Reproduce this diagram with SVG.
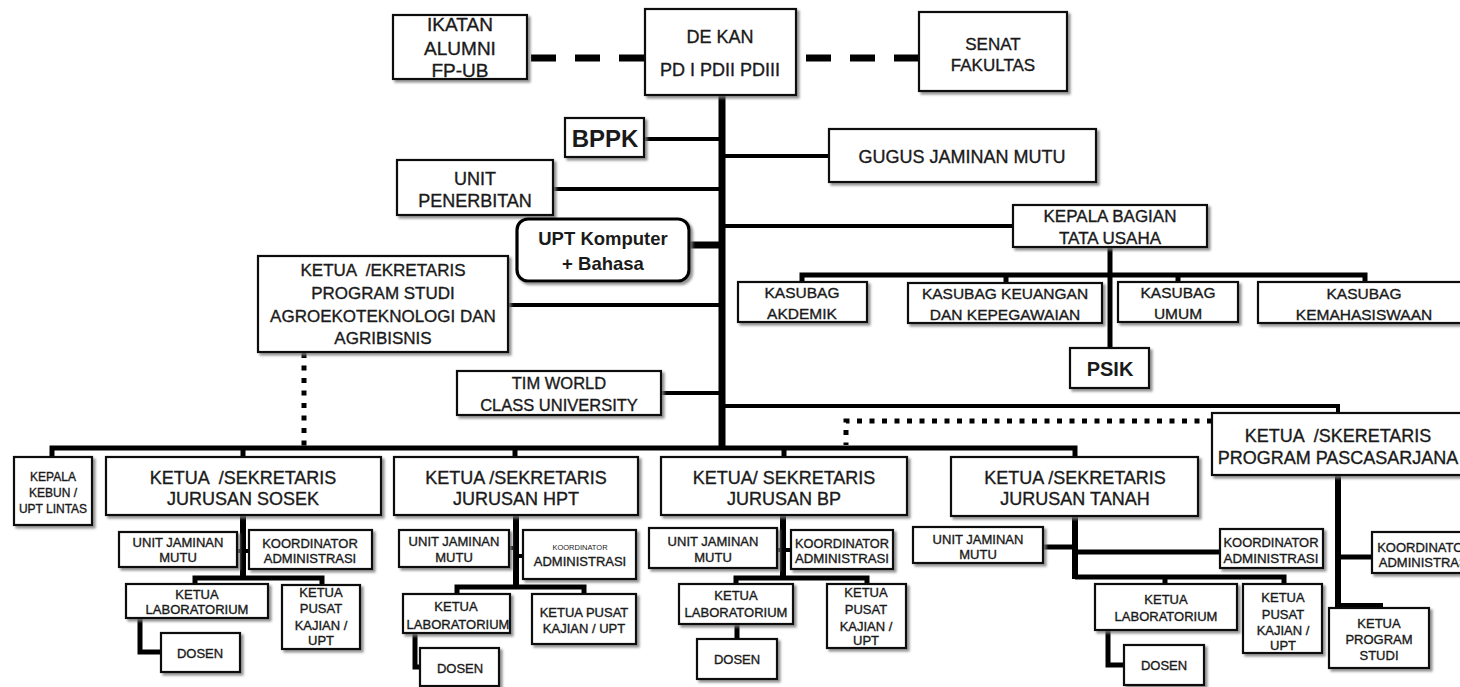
<svg xmlns="http://www.w3.org/2000/svg" width="1460" height="687" viewBox="0 0 1460 687">
<defs>
<filter id="sh" x="-10%" y="-10%" width="130%" height="140%">
<feDropShadow dx="2.5" dy="2.5" stdDeviation="1.2" flood-color="#777" flood-opacity="0.8"/>
</filter>
<style>
.box{fill:#fff;stroke:#111;stroke-width:2.2;filter:url(#sh)}
.rbox{fill:#fff;stroke:#000;stroke-width:3.2;filter:url(#sh)}
.t{font-family:"Liberation Sans",Arial,sans-serif;fill:#1a1a1a;stroke:#1a1a1a;stroke-width:0.35;text-anchor:middle}
.b{font-weight:bold;stroke-width:0}
.f19{font-size:19px}.f18{font-size:18px}.f17{font-size:17px}.f16{font-size:16.5px}.f15{font-size:15.5px}.f13{font-size:13px}.f12{font-size:12px}.f7{font-size:7.5px;stroke-width:0}
.ln{fill:none;stroke:#000;stroke-linejoin:miter}
.w7{stroke-width:7}.w6{stroke-width:6}.w5{stroke-width:5}.w4{stroke-width:4}
.dash{stroke-dasharray:25 19}
.dot{stroke-dasharray:5 7.5}
</style>
</defs>
<rect width="1460" height="687" fill="#fff"/>

<g id="connectors">
<path class="ln w7 dash" d="M531,58 H645"/>
<path class="ln w7 dash" d="M806,58 H920"/>
<path class="ln w7" d="M722,95 V450"/>
<path class="ln w5" d="M52,457 V448 H1075 V457"/>
<path class="ln w5" d="M243,448 V457 M515,448 V457 M784,448 V457"/>
<path class="ln w4" d="M644,139 H722 M553,189 H722 M508,305 H722 M661,393 H722"/>
<path class="ln w7" d="M689,245 H722"/>
<path class="ln w4" d="M722,156 H829 M722,226 H1013"/>
<path class="ln w4" d="M722,406 H1338 V413"/>
<path class="ln w5" d="M1110,247 V348"/>
<path class="ln w5" d="M802,282 V275 H1365 V282 M1006,275 V283 M1178,275 V282"/>
<path class="ln w5 dot" d="M304,353 V446"/>
<path class="ln w5 dot" d="M1212,421 H846 V445"/>
<path class="ln w6" d="M243,515 V578"/>
<path class="ln w5" d="M195,584 V578 H322 V585"/>
<path class="ln w4" d="M237,551 H249"/>
<path class="ln w5" d="M140,618 V652 H161"/>
<path class="ln w6" d="M516,515 V587"/>
<path class="ln w5" d="M457,594 V587 H584 V594"/>
<path class="ln w4" d="M509,548 H516 M516,556 H523"/>
<path class="ln w5" d="M415,633 V667 H420"/>
<path class="ln w6" d="M783,515 V578"/>
<path class="ln w5" d="M736,584 V578 H867 V584"/>
<path class="ln w4" d="M777,550 H791"/>
<path class="ln w5" d="M737,624 V639"/>
<path class="ln w6" d="M1075,516 V579"/>
<path class="ln w5" d="M1043,547 H1075 M1075,552 H1220"/>
<path class="ln w5" d="M1075,577 H1284 V584 M1165,577 V584"/>
<path class="ln w5" d="M1108,630 V665 H1124"/>
<path class="ln w6" d="M1338,475 V606 H1380 V608"/>
<path class="ln w5" d="M1338,557 H1372"/>
</g>

<g id="ikatan"><rect class="box" x="393" y="15" width="134" height="64"/>
<text class="t f19" x="460" y="31">IKATAN</text><text class="t f19" x="460" y="55">ALUMNI</text><text class="t f19" x="460" y="77">FP-UB</text></g>
<g id="dekan"><rect class="box" x="645" y="9" width="151" height="86"/>
<text class="t f18" x="720" y="43">DE KAN</text><text class="t f18" x="720" y="76">PD I PDII PDIII</text></g>
<g id="senat"><rect class="box" x="919" y="12" width="148" height="79"/>
<text class="t f17" x="993" y="50">SENAT</text><text class="t f17" x="993" y="71">FAKULTAS</text></g>
<g id="bppk"><rect class="box" x="565" y="118" width="79" height="39"/>
<text class="t b" style="font-size:24px" x="605" y="147">BPPK</text></g>
<g id="gugus"><rect class="box" x="829" y="129" width="267" height="53"/>
<text class="t f18" x="962" y="163">GUGUS JAMINAN MUTU</text></g>
<g id="penerbitan"><rect class="box" x="397" y="160" width="156" height="55"/>
<text class="t f18" x="475" y="185">UNIT</text><text class="t f18" x="475" y="207">PENERBITAN</text></g>
<g id="upt"><rect class="rbox" x="517" y="219" width="172" height="62" rx="11"/>
<text class="t b" style="font-size:18.5px" x="603" y="245">UPT Komputer</text><text class="t b" style="font-size:18.5px" x="603" y="270">+ Bahasa</text></g>
<g id="prodi"><rect class="box" x="258" y="256" width="250" height="96"/>
<text class="t f17" x="383" y="276" xml:space="preserve">KETUA  /EKRETARIS</text><text class="t f17" x="383" y="299">PROGRAM STUDI</text><text class="t f17" x="383" y="322">AGROEKOTEKNOLOGI DAN</text><text class="t f17" x="383" y="344">AGRIBISNIS</text></g>
<g id="tim"><rect class="box" x="457" y="371" width="204" height="44"/>
<text class="t f16" x="559" y="389">TIM WORLD</text><text class="t f16" x="559" y="411">CLASS UNIVERSITY</text></g>
<g id="kabag"><rect class="box" x="1013" y="205" width="194" height="42"/>
<text class="t f17" x="1110" y="222">KEPALA BAGIAN</text><text class="t f17" x="1110" y="244">TATA USAHA</text></g>
<g id="akademik"><rect class="box" x="738" y="282" width="129" height="40"/>
<text class="t f15" x="802" y="298">KASUBAG</text><text class="t f15" x="802" y="319">AKDEMIK</text></g>
<g id="keuangan"><rect class="box" x="908" y="283" width="194" height="40"/>
<text class="t f15" x="1005" y="299">KASUBAG KEUANGAN</text><text class="t f15" x="1005" y="320">DAN KEPEGAWAIAN</text></g>
<g id="umum"><rect class="box" x="1118" y="282" width="120" height="40"/>
<text class="t f15" x="1178" y="298">KASUBAG</text><text class="t f15" x="1178" y="319">UMUM</text></g>
<g id="kemahasiswaan"><rect class="box" x="1258" y="282" width="212" height="41"/>
<text class="t f15" x="1364" y="299">KASUBAG</text><text class="t f15" x="1364" y="320">KEMAHASISWAAN</text></g>
<g id="psik"><rect class="box" x="1070" y="348" width="79" height="40"/>
<text class="t b" style="font-size:20px" x="1110" y="376">PSIK</text></g>
<g id="pasca"><rect class="box" x="1212" y="413" width="254" height="62"/>
<text class="t f18" x="1338" y="442" xml:space="preserve">KETUA  /SKERETARIS</text><text class="t f18" x="1338" y="464">PROGRAM PASCASARJANA</text></g>

<g id="kebun"><rect class="box" x="14" y="457" width="78" height="68"/>
<text class="t f12" x="53" y="481">KEPALA</text><text class="t f12" x="53" y="497">KEBUN /</text><text class="t f12" x="53" y="513">UPT LINTAS</text></g>
<g id="sosek"><rect class="box" x="106" y="457" width="275" height="58"/>
<text class="t f18" x="243" y="484" xml:space="preserve">KETUA  /SEKRETARIS</text><text class="t f18" x="243" y="505">JURUSAN SOSEK</text></g>
<g id="hpt"><rect class="box" x="394" y="457" width="244" height="58"/>
<text class="t f18" x="516" y="484">KETUA /SEKRETARIS</text><text class="t f18" x="516" y="505">JURUSAN HPT</text></g>
<g id="bp"><rect class="box" x="661" y="457" width="246" height="58"/>
<text class="t f18" x="784" y="484">KETUA/ SEKRETARIS</text><text class="t f18" x="784" y="505">JURUSAN BP</text></g>
<g id="tanah"><rect class="box" x="951" y="457" width="247" height="59"/>
<text class="t f18" x="1075" y="484">KETUA /SEKRETARIS</text><text class="t f18" x="1075" y="505">JURUSAN TANAH</text></g>

<g id="sosek-ujm"><rect class="box" x="119" y="532" width="118" height="35"/>
<text class="t f13" x="178" y="547">UNIT JAMINAN</text><text class="t f13" x="178" y="562">MUTU</text></g>
<g id="sosek-koord"><rect class="box" x="249" y="530" width="123" height="39"/>
<text class="t f13" x="310" y="548">KOORDINATOR</text><text class="t f13" x="310" y="563">ADMINISTRASI</text></g>
<g id="sosek-lab"><rect class="box" x="126" y="584" width="142" height="34"/>
<text class="t f13" x="197" y="599">KETUA</text><text class="t f13" x="197" y="614">LABORATORIUM</text></g>
<g id="sosek-pusat"><rect class="box" x="282" y="585" width="78" height="64"/>
<text class="t f13" x="321" y="597">KETUA</text><text class="t f13" x="321" y="613">PUSAT</text><text class="t f13" x="321" y="630">KAJIAN /</text><text class="t f13" x="321" y="645">UPT</text></g>
<g id="sosek-dosen"><rect class="box" x="161" y="633" width="79" height="39"/>
<text class="t f13" x="200" y="658">DOSEN</text></g>

<g id="hpt-ujm"><rect class="box" x="399" y="530" width="110" height="37"/>
<text class="t f13" x="454" y="546">UNIT JAMINAN</text><text class="t f13" x="454" y="562">MUTU</text></g>
<g id="hpt-koord"><rect class="box" x="523" y="530" width="113" height="49"/>
<text class="t f7" x="580" y="550">KOORDINATOR</text><text class="t f13" x="580" y="566">ADMINISTRASI</text></g>
<g id="hpt-lab"><rect class="box" x="403" y="594" width="107" height="39"/>
<text class="t f13" x="456" y="611">KETUA</text><text class="t f13" x="458" y="629">LABORATORIUM</text></g>
<g id="hpt-pusat"><rect class="box" x="532" y="594" width="104" height="50"/>
<text class="t f13" x="584" y="617">KETUA PUSAT</text><text class="t f13" x="584" y="633">KAJIAN / UPT</text></g>
<g id="hpt-dosen"><rect class="box" x="420" y="648" width="79" height="38"/>
<text class="t f13" x="460" y="673">DOSEN</text></g>

<g id="bp-ujm"><rect class="box" x="649" y="528" width="128" height="40"/>
<text class="t f13" x="713" y="546">UNIT JAMINAN</text><text class="t f13" x="713" y="562">MUTU</text></g>
<g id="bp-koord"><rect class="box" x="791" y="530" width="102" height="39"/>
<text class="t f13" x="842" y="548" textLength="94" lengthAdjust="spacingAndGlyphs">KOORDINATOR</text><text class="t f13" x="842" y="563" textLength="94" lengthAdjust="spacingAndGlyphs">ADMINISTRASI</text></g>
<g id="bp-lab"><rect class="box" x="679" y="584" width="114" height="40"/>
<text class="t f13" x="736" y="600">KETUA</text><text class="t f13" x="736" y="617">LABORATORIUM</text></g>
<g id="bp-pusat"><rect class="box" x="827" y="584" width="79" height="64"/>
<text class="t f13" x="866" y="597">KETUA</text><text class="t f13" x="866" y="614">PUSAT</text><text class="t f13" x="866" y="631">KAJIAN /</text><text class="t f13" x="866" y="645">UPT</text></g>
<g id="bp-dosen"><rect class="box" x="697" y="639" width="80" height="40"/>
<text class="t f13" x="737" y="664">DOSEN</text></g>

<g id="tanah-ujm"><rect class="box" x="913" y="527" width="130" height="36"/>
<text class="t f13" x="978" y="544">UNIT JAMINAN</text><text class="t f13" x="978" y="559">MUTU</text></g>
<g id="tanah-koord"><rect class="box" x="1220" y="529" width="103" height="39"/>
<text class="t f13" x="1271" y="547" textLength="95" lengthAdjust="spacingAndGlyphs">KOORDINATOR</text><text class="t f13" x="1271" y="563" textLength="95" lengthAdjust="spacingAndGlyphs">ADMINISTRASI</text></g>
<g id="tanah-lab"><rect class="box" x="1095" y="584" width="142" height="46"/>
<text class="t f13" x="1166" y="604">KETUA</text><text class="t f13" x="1166" y="621">LABORATORIUM</text></g>
<g id="tanah-pusat"><rect class="box" x="1243" y="584" width="79" height="69"/>
<text class="t f13" x="1283" y="602">KETUA</text><text class="t f13" x="1283" y="619">PUSAT</text><text class="t f13" x="1283" y="635">KAJIAN /</text><text class="t f13" x="1283" y="650">UPT</text></g>
<g id="tanah-dosen"><rect class="box" x="1124" y="645" width="80" height="40"/>
<text class="t f13" x="1164" y="670">DOSEN</text></g>

<g id="pasca-koord"><rect class="box" x="1372" y="532" width="106" height="41"/>
<text class="t f13" x="1425" y="552">KOORDINATOR</text><text class="t f13" x="1425" y="567">ADMINISTRASI</text></g>
<g id="pasca-prodi"><rect class="box" x="1329" y="608" width="100" height="60"/>
<text class="t f13" x="1379" y="628">KETUA</text><text class="t f13" x="1379" y="644">PROGRAM</text><text class="t f13" x="1379" y="660">STUDI</text></g>
</svg>
